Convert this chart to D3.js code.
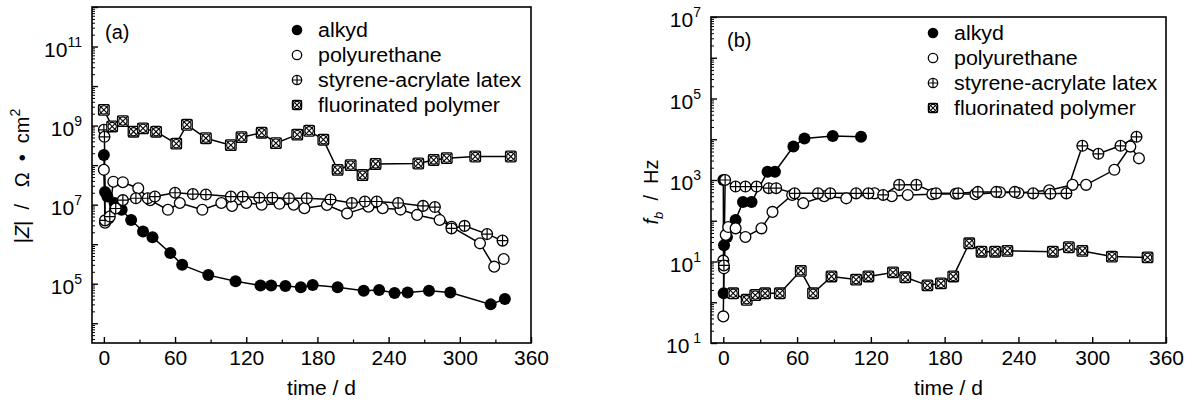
<!DOCTYPE html>
<html>
<head>
<meta charset="utf-8">
<script src="https://cdn.jsdelivr.net/npm/d3@7"></script>
<style>
  html, body { margin: 0; padding: 0; background: #fff; }
  svg { display: block; font-family: "Liberation Sans", Arial, Helvetica, sans-serif; }
  .tick text { font-family: "Liberation Sans", Arial, Helvetica, sans-serif; }
</style>
</head>
<body>
<svg id="chart" width="1194" height="405"></svg>
<script>
// ---- data: [day, value] pairs ----
// (a) impedance modulus |Z| (ohm·cm²)
const alkydZ = [[0,1.8e8],[1,2.1e7],[3,1.6e7],[9,1.1e7],[15,7.4e6],[23,4.1e6],[33,2.1e6],[41,1.5e6],
  [56,6.0e5],[66,3.0e5],[88,1.65e5],[111,1.15e5],[132,9.0e4],[141,9.0e4],[153,8.7e4],[166,8.1e4],
  [176,9.3e4],[197,8.1e4],[219,6.6e4],[232,6.9e4],[245,5.8e4],[256,6.0e4],[274,6.6e4],[292,6.0e4],
  [326,3.0e4],[338,4.1e4]];
const polyurethaneZ = [[0,7.6e7],[1,3.5e6],[4,4.5e6],[8,3.8e7],[16,3.7e7],[29,2.6e7],[39,1.3e7],
  [54,7.4e6],[64,1.1e7],[83,7.4e6],[99,1.1e7],[108,9.3e6],[120,1.1e7],[133,1.0e7],[148,1.05e7],
  [160,1.0e7],[169,8.1e6],[188,9.8e6],[205,6.0e6],[223,8.9e6],[235,8.1e6],[250,7.5e6],[264,5.5e6],
  [283,4.1e6],[293,2.75e6],[317,1.05e6],[329,2.7e5],[337,4.2e5]];
const styreneZ = [[0,7.8e8],[0.5,5.2e8],[1,4.0e6],[5,5.0e6],[10,8.0e6],[16,1.3e7],[27,1.45e7],
  [37,1.45e7],[43,1.6e7],[60,2.0e7],[75,1.85e7],[86,1.8e7],[107,1.6e7],[117,1.6e7],[131,1.5e7],
  [142,1.5e7],[156,1.45e7],[171,1.45e7],[191,1.35e7],[209,1.1e7],[220,1.2e7],[230,1.2e7],
  [248,1.1e7],[269,9.3e6],[279,8.7e6],[293,2.5e6],[304,2.9e6],[323,1.8e6],[336,1.23e6]];
const fluorinatedZ = [[0,2.5e9],[7,9.5e8],[16,1.3e9],[25,7.0e8],[33,8.5e8],[44,7.0e8],[61,3.5e8],
  [70,1.05e9],[86,4.8e8],[107,3.2e8],[116,5.1e8],[133,6.6e8],[145,3.6e8],[163,5.9e8],[173,7.4e8],
  [185,4.4e8],[197,7.6e7],[208,1.0e8],[218,5.6e7],[229,1.07e8],[265,1.1e8],[278,1.35e8],
  [289,1.5e8],[313,1.65e8],[343,1.65e8]];

// (b) breakpoint frequency f_b (Hz)
const alkydFb = [[0,1000],[0.3,1.66],[0.6,25],[3,40],[10,105],[16,290],[23,290],[36,1600],
  [42,1600],[57,6600],[66,10500],[89,12000],[112,11500]];
const polyurethaneFb = [[0,0.45],[0.5,6.8],[2,45],[4,70],[10,65],[18,40],[31,65],[40,165],
  [56,430],[65,270],[82,400],[100,355],[123,470],[137,400],[150,430],[170,450],[189,460],
  [205,450],[225,500],[240,480],[265,560],[284,760],[295,760],[318,1780],[331,6600],[338,3400]];
const styreneFb = [[0,10.5],[0.5,8],[1.5,1000],[10,690],[18,690],[27,690],[37,630],[43,630],
  [58,470],[77,470],[87,470],[108,470],[118,470],[130,430],[143,760],[157,760],[173,470],
  [191,470],[207,510],[222,510],[237,510],[252,470],[266,460],[279,470],[292,6900],[305,4400],
  [323,6900],[336,11500]];
const fluorinatedFb = [[8,1.66],[19,1.15],[26,1.5],[34,1.66],[46,1.66],[63,5.9],[73,1.66],
  [88,4.3],[108,3.6],[118,4.3],[138,5.4],[148,4.1],[166,2.6],[177,2.9],[187,4.3],[200,28],
  [210,17.4],[221,17.4],[231,18.2],[268,17.4],[281,22.4],[292,18.2],[316,13.2],[345,12.6]];

// ---- labels and ticks ----
const seriesNames = ["alkyd", "polyurethane", "styrene-acrylate latex", "fluorinated polymer"];
const markerTypes = ["filled", "open", "plus", "xbox"];
const dayTicks = [0, 60, 120, 180, 240, 300, 360];
const dayMinorTicks = [30, 90, 150, 210, 270, 330];
const zTickExps = [5, 7, 9, 11];
const zTickSup = ["5", "7", "9", "11"];
const fbTickExps = [-1, 1, 3, 5, 7];
const fbTickSup = [" 1", "1", "3", "5", "7"];

const svg = d3.select("#chart");

function drawMarker(g, type, cx, cy, r) {
  const m = g.append("g").attr("transform", `translate(${cx},${cy})`);
  if (type === "filled") {
    m.append("circle").attr("r", r).attr("fill", "#000");
  } else if (type === "open") {
    m.append("circle").attr("r", r - 0.6).attr("fill", "#fff").attr("stroke", "#000").attr("stroke-width", 1.3);
  } else if (type === "plus") {
    m.append("circle").attr("r", r - 0.6).attr("fill", "#fff").attr("stroke", "#000").attr("stroke-width", 1.3);
    m.append("path").attr("d", `M${-r + 0.6},0H${r - 0.6}M0,${-r + 0.6}V${r - 0.6}`)
      .attr("stroke", "#000").attr("stroke-width", 1.2);
  } else if (type === "xbox") {
    const s = r - 0.7;
    m.append("rect").attr("x", -s).attr("y", -s).attr("width", 2 * s).attr("height", 2 * s)
      .attr("rx", 1.5).attr("fill", "#fff").attr("stroke", "#000").attr("stroke-width", 1.3);
    m.append("circle").attr("r", s * 0.78).attr("fill", "none").attr("stroke", "#000").attr("stroke-width", 1.1);
    m.append("path").attr("d", `M${-s},${-s}L${s},${s}M${s},${-s}L${-s},${s}`)
      .attr("stroke", "#000").attr("stroke-width", 1.1);
  }
}

function panel(cfg) {
  const { left, right, top, bottom, yDomain, series, tickExps, tickSup, label, labelPos, legendPos, yLabel } = cfg;
  const x = d3.scaleLinear().domain([-10, 360]).range([left, right]);
  const y = d3.scaleLog().domain(yDomain).range([bottom, top]);
  const g = svg.append("g");

  // frame
  g.append("rect").attr("x", left).attr("y", top).attr("width", right - left).attr("height", bottom - top)
    .attr("fill", "none").attr("stroke", "#000").attr("stroke-width", 1.6);

  // x axis (inward ticks)
  const xa = g.append("g").attr("transform", `translate(0,${bottom})`)
    .call(d3.axisBottom(x).tickValues(dayTicks).tickSize(-6).tickPadding(7).tickFormat(d3.format("d")));
  xa.select(".domain").remove();
  xa.selectAll("line").attr("stroke-width", 1.4);
  xa.selectAll("text").attr("font-size", 21).attr("fill", "#000");
  const xm = g.append("g").attr("transform", `translate(0,${bottom})`)
    .call(d3.axisBottom(x).tickValues(dayMinorTicks).tickSize(-3.5).tickFormat(""));
  xm.select(".domain").remove();
  xm.selectAll("line").attr("stroke-width", 1.2);

  // y axis: decades long, 2..9 short
  const lo = Math.floor(Math.log10(yDomain[0])), hi = Math.ceil(Math.log10(yDomain[1]));
  const majors = [], minors = [];
  for (let e = lo; e <= hi; e++) {
    const v = Math.pow(10, e);
    if (v >= yDomain[0] && v <= yDomain[1]) majors.push(v);
    for (let k = 2; k <= 9; k++) {
      const w = k * v;
      if (w >= yDomain[0] && w <= yDomain[1]) minors.push(w);
    }
  }
  const ya = g.append("g").attr("transform", `translate(${left},0)`)
    .call(d3.axisLeft(y).tickValues(majors).tickSize(-6).tickFormat(""));
  ya.select(".domain").remove();
  ya.selectAll("line").attr("stroke-width", 1.4);
  const ym = g.append("g").attr("transform", `translate(${left},0)`)
    .call(d3.axisLeft(y).tickValues(minors).tickSize(-3).tickFormat(""));
  ym.select(".domain").remove();
  ym.selectAll("line").attr("stroke-width", 1);

  // y tick labels: 10^n
  tickExps.forEach((e, i) => {
    const t = g.append("text").attr("x", left - 10).attr("y", y(Math.pow(10, e)) + 10)
      .attr("text-anchor", "end").attr("font-size", 21).attr("fill", "#000");
    t.append("tspan").text("10");
    t.append("tspan").attr("dy", -10).attr("font-size", 14).text(tickSup[i]);
  });

  // x label
  g.append("text").attr("x", (left + right) / 2 + 10).attr("y", 395)
    .attr("text-anchor", "middle").attr("font-size", 21).text("time / d");

  // panel tag
  g.append("text").attr("x", labelPos[0]).attr("y", labelPos[1]).attr("font-size", 20).text(label);

  // series lines and markers
  const line = d3.line().x(d => x(d[0])).y(d => y(d[1]));
  series.forEach(s => {
    g.append("path").datum(s).attr("d", line).attr("fill", "none")
      .attr("stroke", "#000").attr("stroke-width", 1.5);
  });
  series.forEach((s, i) => {
    s.forEach(d => drawMarker(g, markerTypes[i], x(d[0]), y(d[1]), 6));
  });

  // legend
  seriesNames.forEach((name, i) => {
    const ly = legendPos[1] + i * 25;
    drawMarker(g, markerTypes[i], legendPos[0], ly, 5.3);
    g.append("text").attr("transform", `translate(${legendPos[0] + 21},${ly + 7}) scale(1.07,1)`)
      .attr("font-size", 20).text(name);
  });

  // y label
  yLabel(g);
}

panel({
  left: 92, right: 531, top: 7, bottom: 343,
  yDomain: [Math.pow(10, 3.5), 1e12],
  series: [alkydZ, polyurethaneZ, styreneZ, fluorinatedZ],
  tickExps: zTickExps, tickSup: zTickSup,
  label: "(a)", labelPos: [105, 39],
  legendPos: [297, 30],
  yLabel: g => {
    const t = g.append("text").attr("transform", "translate(29,176) rotate(-90)")
      .attr("text-anchor", "middle").attr("font-size", 20).attr("xml:space", "preserve")
      .style("white-space", "pre");
    t.append("tspan").text("|");
    t.append("tspan").attr("font-style", "italic").text("Z");
    t.append("tspan").text("|  /   Ω  •  cm");
    t.append("tspan").attr("dy", -9).attr("font-size", 14).text("2");
  }
});

panel({
  left: 711, right: 1166, top: 17, bottom: 343,
  yDomain: [0.1, 1e7],
  series: [alkydFb, polyurethaneFb, styreneFb, fluorinatedFb],
  tickExps: fbTickExps, tickSup: fbTickSup,
  label: "(b)", labelPos: [727, 47],
  legendPos: [933, 33],
  yLabel: g => {
    const t = g.append("text").attr("transform", "translate(658,192) rotate(-90)")
      .attr("text-anchor", "middle").attr("font-size", 20).attr("xml:space", "preserve")
      .style("white-space", "pre");
    t.append("tspan").attr("font-style", "italic").text("f");
    t.append("tspan").attr("font-style", "italic").attr("font-size", 13).attr("dy", 5).text("b");
    t.append("tspan").attr("dy", -5).text("  /  Hz");
  }
});
</script>
</body>
</html>
